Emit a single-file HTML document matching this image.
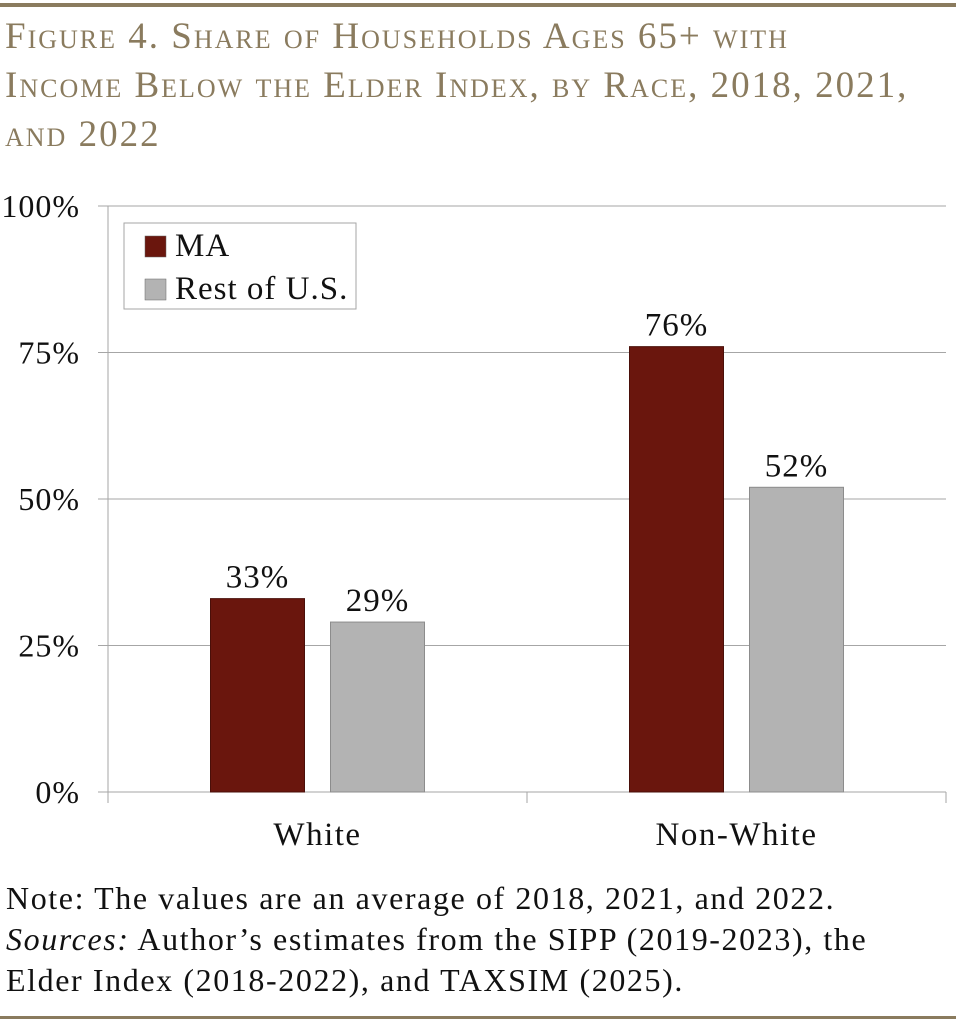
<!DOCTYPE html>
<html><head><meta charset="utf-8"><style>
body{margin:0;background:#fff;width:956px;height:1024px;overflow:hidden;position:relative;font-family:"Liberation Serif",serif}
.rule{position:absolute;left:0;width:956px;height:4px;background:#8a7b5e}
#title{position:absolute;left:5px;top:12px;font-size:37px;line-height:49px;color:#8a7b5e;font-variant:small-caps;letter-spacing:2px;margin:0;font-weight:normal;white-space:nowrap}
#note{position:absolute;left:6px;top:878px;font-size:32px;line-height:41px;color:#111;letter-spacing:1.6px;white-space:nowrap}
</style></head><body>
<div class="rule" style="top:3px"></div>
<h1 id="title">Figure 4. Share of Households Ages 65+ with<br>Income Below the Elder Index, by Race, 2018, 2021,<br>and 2022</h1>
<svg id="chart" width="956" height="880" style="position:absolute;left:0;top:0" font-family="Liberation Serif, serif"></svg>
<div id="note">Note: The values are an average of 2018, 2021, and 2022.<br><i>Sources:</i> Author’s estimates from the SIPP (2019-2023), the<br>Elder Index (2018-2022), and TAXSIM (2025).</div>
<div class="rule" style="top:1016px;height:3px"></div>
<script>
const categories=["White","Non-White"];
const seriesNames=["MA","Rest of U.S."];
const maValues=[33,76];
const restValues=[29,52];
const tickValues=[0,25,50,75,100];
const tickLabels=["0%","25%","50%","75%","100%"];
const colors=["#6a160d","#b3b3b3"];
const svg=document.getElementById('chart');
const NS="http://www.w3.org/2000/svg";
const L=108,R=946,T=206,B=792;
const y=v=>B-(v/100)*(B-T);
const groupW=(R-L)/categories.length;
const x=i=>L+groupW*(i+0.5);
function mk(tag,attrs,text){const e=document.createElementNS(NS,tag);for(const k in attrs)e.setAttribute(k,attrs[k]);if(text!==undefined)e.textContent=text;svg.appendChild(e);return e;}
tickValues.forEach((v,i)=>{
 const g=mk('line',{x1:L-10,x2:R,y1:y(v),y2:y(v),stroke:'#a6a6a6','stroke-width':1});
 
 
 const t=mk('text',{x:80,y:y(v)+11,'text-anchor':'end','font-size':32,fill:'#111','letter-spacing':1},tickLabels[i]);
 
 
});
const ax=mk('line',{x1:L,x2:L,y1:T,y2:B+11,stroke:'#a6a6a6','stroke-width':1});


[0,1,2].forEach(i=>{const tk=mk('line',{x1:L+groupW*i,x2:L+groupW*i,y1:B,y2:B+11,stroke:'#a6a6a6'});

});
const barW=94,gap=26;
const series=[maValues,restValues];
categories.forEach((c,i)=>{
 series.forEach((vals,s)=>{
  const bx=x(i)+(s===0?-(gap/2+barW):gap/2);
  const r=mk('rect',{x:bx,y:y(vals[i]),width:barW,height:B-y(vals[i]),fill:colors[s],stroke:s?'#8c8c8c':'#4a0f09','stroke-width':1});
  
  
  const t=mk('text',{x:bx+barW/2,y:y(vals[i])-11,'text-anchor':'middle','font-size':33,fill:'#111','letter-spacing':1},vals[i]+'%');
  
  
 });
 const lt=mk('text',{x:x(i),y:845,'text-anchor':'middle','font-size':33,fill:'#111','letter-spacing':1.5},c);
 
 
});
const lb=mk('rect',{x:124,y:223,width:232,height:86,fill:'#fff',stroke:'#a6a6a6'});


seriesNames.forEach((n,s)=>{
 const sw=mk('rect',{x:145,y:236+s*43,width:21,height:21,fill:colors[s],stroke:'#666','stroke-width':0.5});
 
 
 const t=mk('text',{x:175,y:256+s*43,'font-size':33,fill:'#111','letter-spacing':1},n);
 
 
});
</script>
</body></html>
